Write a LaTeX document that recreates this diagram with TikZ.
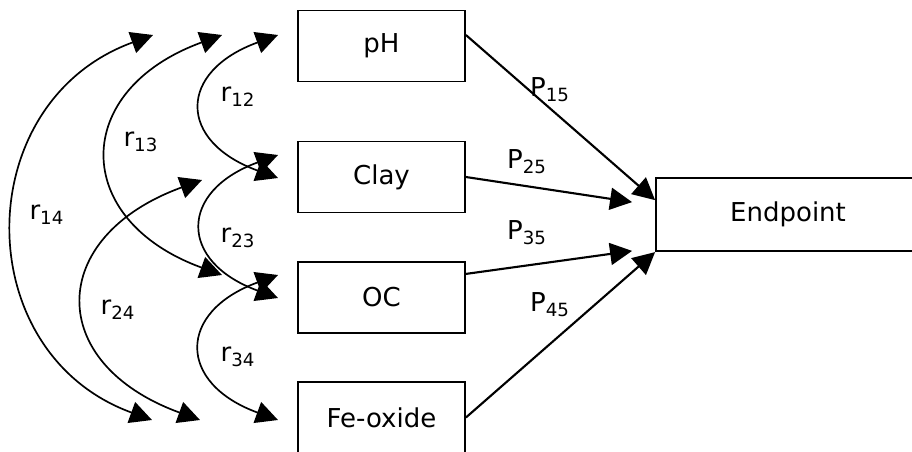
\documentclass[tikz,border=0pt]{standalone}
\usepackage{fontspec}
\setmainfont{DejaVu Sans}
\usetikzlibrary{arrows.meta}

\begin{document}
\begin{tikzpicture}[
  every node/.style={font=\fontsize{18.5}{22}\selectfont, inner sep=2pt},
  soil/.style={draw, line width=1.3pt, minimum width=4.175cm,
               minimum height=1.775cm, inner sep=0pt},
  target/.style={draw, line width=1.3pt, minimum width=6.6cm,
                 minimum height=1.825cm, inner sep=0pt},
  effect/.style={-{Triangle[length=0.55cm, width=0.55cm]}, line width=1.5pt},
  corr/.style={{Triangle[length=0.55cm, width=0.55cm]}-{Triangle[length=0.55cm, width=0.55cm]},
               line width=1.2pt},
  coef/.style={inner sep=0pt},
]
\useasboundingbox (0,0) rectangle (22.8,-11.275);

% --- Soil properties (left column) ----------------------------------
\node[soil] (ph)   at (9.5375, -1.15)   {pH};
\node[soil] (clay) at (9.5375, -4.425)  {Clay};
\node[soil] (oc)   at (9.5375, -7.4375) {OC};
\node[soil] (fe)   at (9.5375, -10.4375) {Fe-oxide};

% --- Endpoint (right) -----------------------------------------------
\node[target] (endpt) at (19.7, -5.3625) {Endpoint};

% --- Free ends of the correlation arcs -------------------------------
\coordinate (r12-top) at (6.95, -0.875);
\coordinate (r12-bot) at (6.95, -4.45);
\coordinate (r23-top) at (6.95, -3.875);
\coordinate (r23-bot) at (6.95, -7.45);
\coordinate (r34-top) at (6.95, -6.875);
\coordinate (r34-bot) at (6.95, -10.5);
\coordinate (r13-top) at (5.55, -0.875);
\coordinate (r13-bot) at (5.55, -6.875);
\coordinate (r24-top) at (5.05, -4.5);
\coordinate (r24-bot) at (5.0, -10.5);
\coordinate (r14-top) at (3.825, -0.875);
\coordinate (r14-bot) at (3.8, -10.5);

% Correlations: double-headed arcs bulging to the left.
\draw[corr] (r12-top) to[out=200, in=160, looseness=1.92] (r12-bot);
\draw[corr] (r23-top) to[out=200, in=160, looseness=1.9]  (r23-bot);
\draw[corr] (r34-top) to[out=200, in=160, looseness=1.9]  (r34-bot);
\draw[corr] (r13-top) to[out=200, in=160, looseness=1.72] (r13-bot);
\draw[corr] (r24-top) to[out=200, in=160, looseness=1.76] (r24-bot);
\draw[corr] (r14-top) to[out=200, in=160, looseness=1.3]  (r14-bot);

\node[coef] (l12) at (5.95, -2.42)  {r\textsubscript{12}};
\node[coef] (l13) at (3.52, -3.55)  {r\textsubscript{13}};
\node[coef] (l14) at (1.17, -5.375) {r\textsubscript{14}};
\node[coef] (l23) at (5.95, -5.95)  {r\textsubscript{23}};
\node[coef] (l24) at (2.95, -7.75)  {r\textsubscript{24}};
\node[coef] (l34) at (5.95, -8.93)  {r\textsubscript{34}};

% --- Path coefficients to the endpoint -------------------------------
\draw[effect] ([yshift=0.275cm]ph.east) -- ([yshift=0.36cm]endpt.west);
\draw[effect] (clay.east) -- ([xshift=-0.575cm, yshift=0.31cm]endpt.west);
\draw[effect] ([yshift=0.59cm]oc.east) -- ([xshift=-0.575cm, yshift=-0.91cm]endpt.west);
\draw[effect] (fe.east) -- ([yshift=-0.94cm]endpt.west);

\node[coef] (p15) at (13.75, -2.25)   {P\textsubscript{15}};
\node[coef] (p25) at (13.175, -4.05)  {P\textsubscript{25}};
\node[coef] (p35) at (13.175, -5.825) {P\textsubscript{35}};
\node[coef] (p45) at (13.75, -7.625)  {P\textsubscript{45}};
\end{tikzpicture}
\end{document}
